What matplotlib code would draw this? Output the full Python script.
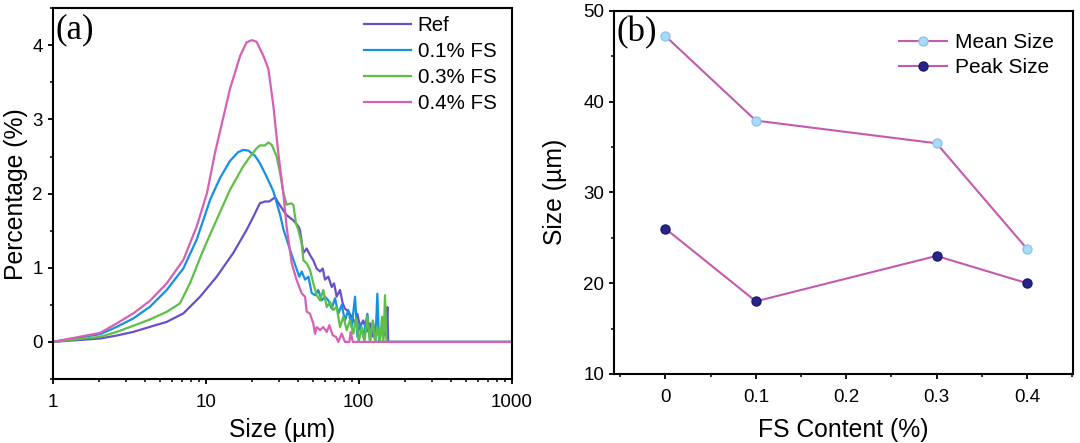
import matplotlib
matplotlib.use("Agg")
import matplotlib.pyplot as plt
from matplotlib.ticker import MultipleLocator, LogLocator, NullFormatter, FixedLocator, FixedFormatter

plt.rcParams['font.family'] = ['Liberation Sans', 'DejaVu Sans']

# (a) particle size distribution
ref_size = [1, 2.04, 2.62, 3.36, 4.32, 5.56, 7.14, 9.18, 11.8, 15.1, 18.5, 20.5, 22.6,
            24.4, 26, 28.4, 30.6, 33.8, 37.4, 40.3, 41.3, 43.5, 45.7, 48.1, 50.5, 53.1,
            55.9, 58.2, 60.2, 63.3, 66.6, 69, 71.8, 75.5, 78.6, 81.3, 85.5, 90, 94.6,
            98, 102, 107, 113, 118.5, 124.5, 130, 136.5, 143.5, 150.7, 154, 156, 1000]
ref_pct = [0, 0.046, 0.086, 0.135, 0.203, 0.27, 0.384, 0.609, 0.88, 1.196, 1.51, 1.69, 1.87,
           1.894, 1.894, 1.95, 1.84, 1.71, 1.64, 1.56, 1.51, 1.20, 1.26, 1.17, 1.10, 0.99,
           0.95, 0.99, 0.84, 0.88, 0.74, 0.79, 0.61, 0.70, 0.52, 0.45, 0.41, 0.34, 0.25,
           0.38, 0.20, 0.29, 0.14, 0.25, 0.07, 0.20, 0.07, 0.16, 0.07, 0.47, 0, 0]

fs01_size = [1, 2.04, 2.62, 3.36, 4.32, 5.56, 7.14, 8.73, 10.7, 12.4, 14.4, 16.3, 17.6,
             19.0, 21.0, 22.6, 25.0, 27.7, 30.6, 32.2, 35.6, 38.4, 40.9, 42.4, 44.6, 46.9,
             49.3, 51.8, 54.4, 57.3, 60.2, 63.3, 66.6, 70, 73.6, 77.4, 81.3, 85.5, 90,
             94.6, 98, 102, 107, 114, 118.5, 124.5, 128.5, 132.4, 135.8, 1000]
fs01_pct = [0, 0.104, 0.203, 0.316, 0.474, 0.70, 0.99, 1.38, 1.92, 2.21, 2.44, 2.56, 2.59,
            2.58, 2.51, 2.41, 2.23, 2.03, 1.72, 1.52, 1.24, 1.04, 0.88, 0.95, 0.84, 0.88,
            0.66, 0.63, 0.70, 0.56, 0.61, 0.56, 0.45, 0.59, 0.38, 0.50, 0.29, 0.43, 0.20,
            0.61, 0.07, 0.25, 0.07, 0.38, 0.02, 0.25, 0, 0.65, 0, 0]

fs03_size = [1, 2.04, 2.62, 3.36, 4.32, 5.56, 6.79, 7.89, 9.64, 11.8, 14.4, 17.6, 19.5,
             21.5, 22.6, 24.4, 25.7, 27, 29.1, 30.6, 32.2, 33.8, 36, 37.4, 38.9, 40.3,
             42.4, 43.5, 45.7, 48.1, 50.5, 53.1, 55.9, 58.7, 61.8, 64.9, 68.2, 71.8, 75.5,
             79.3, 83.5, 87.7, 92.2, 96, 100, 104.6, 109, 114, 118.5, 123.5, 128, 132,
             138, 142, 145, 148.6, 152, 1000]
fs03_pct = [0, 0.068, 0.135, 0.217, 0.303, 0.406, 0.52, 0.79, 1.24, 1.65, 2.05, 2.37, 2.50,
            2.61, 2.65, 2.65, 2.69, 2.66, 2.50, 2.28, 2.01, 1.85, 1.87, 1.85, 1.60, 1.51,
            1.33, 1.10, 1.06, 0.97, 0.79, 0.63, 0.56, 0.70, 0.47, 0.54, 0.43, 0.47, 0.20,
            0.34, 0.16, 0.29, 0.11, 0.32, 0, 0.20, 0, 0.34, 0, 0.29, 0, 0.20,
            0, 0.34, 0, 0.63, 0, 0]

fs04_size = [1, 2.04, 2.62, 3.36, 4.32, 5.56, 7.14, 8.73, 10.2, 11.5, 14.4, 16.8, 18.5,
             20, 21.5, 23.8, 25.7, 27.7, 29.8, 32.2, 33.8, 36.5, 39.3, 42.4, 44.6, 45.7,
             48, 50.5, 51.8, 53.1, 55.9, 58.7, 61.8, 64.3, 67.6, 71.1, 73.6, 77.4, 81.3,
             86.8, 88.7, 91.4, 1000]
fs04_pct = [0, 0.122, 0.249, 0.384, 0.555, 0.79, 1.105, 1.556, 2.01, 2.55, 3.41, 3.86, 4.04,
            4.07, 4.05, 3.86, 3.68, 3.18, 2.55, 2.00, 1.55, 1.06, 0.835, 0.655, 0.61, 0.41,
            0.38, 0.25, 0.11, 0.20, 0.16, 0.20, 0.135, 0.226, 0.09, 0.068, 0, 0.114, 0,
            0, 0.135, 0, 0]

# (b) mean and peak size
fs_content = [0, 0.1, 0.3, 0.4]
fs_labels = ['0', '0.1', '0.2', '0.3', '0.4']
mean_size = [47.2, 37.9, 35.4, 23.8]
peak_size = [26.0, 18.0, 23.0, 20.0]

fig = plt.figure(figsize=(10.8, 4.43), dpi=100)
ax1 = fig.add_axes([0.0488, 0.1445, 0.425, 0.8368])
ax2 = fig.add_axes([0.5685, 0.1558, 0.425, 0.820])

lw = 1.6
ax1.plot(ref_size, ref_pct, color='#6a50c8', lw=lw, label='Ref')
ax1.plot(fs01_size, fs01_pct, color='#1591e0', lw=lw, label='0.1% FS')
ax1.plot(fs03_size, fs03_pct, color='#5ebe45', lw=lw, label='0.3% FS')
ax1.plot(fs04_size, fs04_pct, color='#d660b5', lw=lw, label='0.4% FS')
ax1.set_xscale('log')
ax1.set_xlim(1, 1000)
ax1.set_ylim(-0.5, 4.5)
ax1.xaxis.set_major_locator(FixedLocator([1, 10, 100, 1000]))
ax1.xaxis.set_major_formatter(FixedFormatter(['1', '10', '100', '1000']))
ax1.xaxis.set_minor_locator(LogLocator(base=10, subs=range(2, 10)))
ax1.xaxis.set_minor_formatter(NullFormatter())
ax1.yaxis.set_major_locator(MultipleLocator(1))
ax1.yaxis.set_minor_locator(MultipleLocator(0.5))
ax1.set_xlabel('Size (µm)', fontsize=17.8, labelpad=5)
ax1.set_ylabel('Percentage (%)', fontsize=17.8, labelpad=3)
ax1.text(0.006, 0.941, '(a)', transform=ax1.transAxes, fontsize=25,
         family=['Liberation Serif', 'DejaVu Serif'], va='center', ha='left')
ax1.legend(loc='upper right', bbox_to_anchor=(0.978, 0.992), frameon=False, fontsize=14.8,
           handlelength=2.3, handletextpad=0.3, labelspacing=0.33, borderaxespad=0.0,
           borderpad=0.25)

line_c = '#c45aae'
ax2.plot(fs_content, mean_size, color=line_c, lw=1.5, marker='o', ms=6.5,
         mfc='#a9daf7', mec='#8fc6ea', label='Mean Size')
ax2.plot(fs_content, peak_size, color=line_c, lw=1.5, marker='o', ms=6.5,
         mfc='#27258a', mec='#1c1a6e', label='Peak Size')
ax2.set_xlim(-0.057, 0.451)
ax2.set_ylim(10, 50)
ax2.xaxis.set_major_locator(FixedLocator([0, 0.1, 0.2, 0.3, 0.4]))
ax2.xaxis.set_major_formatter(FixedFormatter(fs_labels))
ax2.xaxis.set_minor_locator(MultipleLocator(0.05))
ax2.yaxis.set_major_locator(MultipleLocator(10))
ax2.yaxis.set_minor_locator(MultipleLocator(5))
ax2.set_xlabel('FS Content (%)', fontsize=17.8, labelpad=9)
ax2.set_ylabel('Size (µm)', fontsize=17.8, labelpad=12)
ax2.text(0.005, 0.94, '(b)', transform=ax2.transAxes, fontsize=25,
         family=['Liberation Serif', 'DejaVu Serif'], va='center', ha='left')
ax2.legend(loc='upper right', bbox_to_anchor=(1.0, 0.99), frameon=False, fontsize=15,
           handlelength=2.3, handletextpad=0.4, labelspacing=0.3)

for ax in (ax1, ax2):
    for s in ax.spines.values():
        s.set_linewidth(1.5)
    ax.tick_params(which='major', direction='out', length=3.5, width=1.3,
                   labelsize=13.5, top=False, right=False)
    ax.tick_params(which='minor', direction='out', length=2.2, width=1.1,
                   top=False, right=False)
    ax.tick_params(axis='x', which='major', pad=7)

fig.savefig('out.png', dpi=100)
